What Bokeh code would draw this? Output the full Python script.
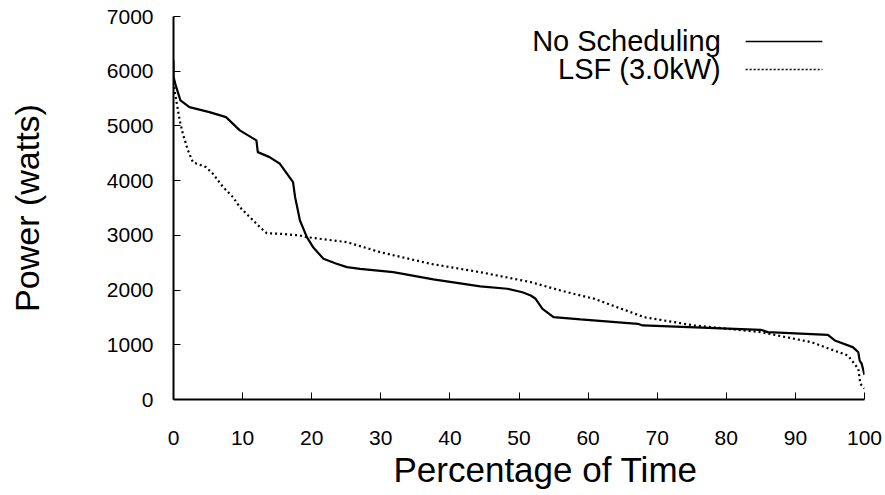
from bokeh.plotting import figure
from bokeh.models import Range1d, FixedTicker, Label, Title
from bokeh.embed import file_html
from bokeh.resources import INLINE

# ---- data ----
x_nosched = [0, 0, 0.3, 1.0, 2.3, 5.2, 7.6, 9.6, 12.0, 12.2, 13.9, 15.4, 17.3, 17.6,
             17.8, 18.3, 19.3, 20.2, 21.7, 23.6, 25.1, 27.0, 31.8, 37.6, 44.4, 48.3,
             50.5, 51.7, 52.4, 53.4, 55.0, 58.9, 67.2, 67.9, 85.0, 86.0, 94.7, 95.7,
             98.3, 99.1, 99.3, 99.6, 100]
y_nosched = [6200, 5900, 5750, 5466, 5344, 5252, 5161, 4918, 4735, 4521, 4430, 4308, 3973,
             3698, 3578, 3272, 2967, 2784, 2572, 2481, 2419, 2389, 2327, 2194, 2066, 2024,
             1960, 1901, 1841, 1658, 1505, 1463, 1383, 1353, 1274, 1231, 1182, 1079,
             957, 865, 713, 650, 450]

x_lsf = [0, 0.15, 0.9, 1.35, 2.1, 2.8, 4.7, 5.7, 7.2, 8.6, 9.6, 12.5, 13.5, 15.4, 18.3,
         19.3, 25.1, 29.9, 37.2, 44.4, 51.7, 56.0, 58.9, 60.9, 68.1, 75.4, 85.0, 92.3,
         97.6, 99.1, 99.4, 100]
y_lsf = [5800, 5650, 5100, 4857, 4552, 4338, 4247, 4126, 3881, 3698, 3516, 3150, 3040,
         3029, 2998, 2967, 2876, 2693, 2480, 2327, 2145, 1993, 1901, 1841, 1505, 1353,
         1231, 1048, 804, 561, 287, 200]

series_names = ["No Scheduling", "LSF (3.0kW)"]
x_ticks = [0, 10, 20, 30, 40, 50, 60, 70, 80, 90, 100]
y_ticks = [0, 1000, 2000, 3000, 4000, 5000, 6000, 7000]
x_title = "Percentage of Time"
y_title = "Power (watts)"

FONT = "Liberation Sans"

p = figure(width=885, height=495, output_backend="svg", toolbar_location=None,
           x_range=Range1d(0, 100), y_range=Range1d(0, 7000),
           min_border_left=173, min_border_right=21, min_border_top=16,
           min_border_bottom=96)
p.outline_line_color = None
p.xgrid.visible = False
p.ygrid.visible = False
p.background_fill_color = "white"
p.border_fill_color = "white"

p.line(x_nosched, y_nosched, line_color="black", line_width=2.2)
p.line(x_lsf, y_lsf, line_color="black", line_width=2.2, line_dash="2 3")

for ax in (p.xaxis, p.yaxis):
    ax.axis_line_width = 2
    ax.axis_line_color = "black"
    ax.major_tick_in = 7
    ax.major_tick_out = 0
    ax.major_tick_line_color = "black"
    ax.major_tick_line_width = 1
    ax.minor_tick_line_color = None
    ax.major_label_text_font = FONT
    ax.major_label_text_font_size = "21px"
    ax.major_label_text_color = "black"
    ax.axis_label_text_font = FONT
    ax.axis_label_text_font_style = "normal"
    ax.axis_label_text_color = "black"

p.xaxis.ticker = FixedTicker(ticks=x_ticks)
p.yaxis.ticker = FixedTicker(ticks=y_ticks)
p.xaxis.major_label_standoff = 31
p.yaxis.major_label_standoff = 20
p.yaxis.axis_label = y_title
p.yaxis.axis_label_text_font_size = "34px"
p.yaxis.axis_label_standoff = 58

# x-axis title, placed a little right of centre as in the reference
p.add_layout(Title(text=x_title, align="left", offset=220, standoff=0,
                   vertical_align="bottom",
                   text_font=FONT, text_font_size="35px", text_font_style="normal",
                   text_color="black"), "below")

# ---- legend (text left of sample line) ----
legend_text_x = 79.2
legend_line_x = [82.8, 93.9]
legend_rows_y = [6545, 6033]
dashes = ["solid", "2 2"]
for name, ly, dash in zip(series_names, legend_rows_y, dashes):
    p.add_layout(Label(x=legend_text_x, y=ly, text=name, text_align="right",
                       text_baseline="middle", text_font=FONT,
                       text_font_size="29px", text_color="black"))
    p.segment(x0=[legend_line_x[0]], y0=[ly], x1=[legend_line_x[1]], y1=[ly],
              line_color="black", line_width=1.5, line_dash=dash)

open("out.html", "w").write(file_html(p, INLINE))
